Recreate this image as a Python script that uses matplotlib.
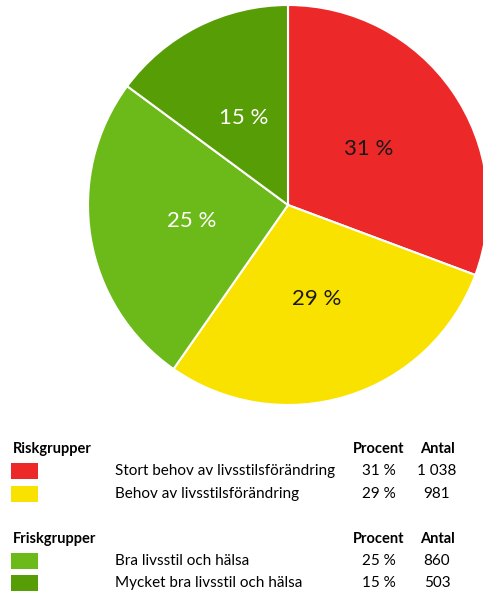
import matplotlib.pyplot as plt
import matplotlib.patches as mpatches

plt.rcParams['font.family'] = ['Lato', 'DejaVu Sans']

labels = ['Stort behov av livsstilsförändring', 'Behov av livsstilsförändring',
          'Bra livsstil och hälsa', 'Mycket bra livsstil och hälsa']
antal = [1038, 981, 860, 503]
procent = ['31 %', '29 %', '25 %', '15 %']
antal_txt = ['1 038', '981', '860', '503']
colors = ['#ED2828', '#F9E200', '#6CBA19', '#579E06']
label_colors = ['#1a1a1a', '#1a1a1a', 'white', 'white']

W, H = 483, 591
fig = plt.figure(figsize=(W / 100, H / 100), dpi=100)

# pie axes: centre (288, 205), radius 200 px
ax = fig.add_axes([88 / W, 1 - 405 / H, 400 / W, 400 / H])
wedges, texts = ax.pie(antal, colors=colors, startangle=90, counterclock=False,
                       labels=procent, labeldistance=0.49,
                       wedgeprops=dict(edgecolor='white', linewidth=1.5))
for t, c in zip(texts, label_colors):
    t.set_color(c)
    t.set_fontsize(16)
    t.set_ha('center')
    t.set_va('center')
ax.set_aspect('equal')
ax.set_xlim(-1.0, 1.0)
ax.set_ylim(-1.0, 1.0)


def fx(x):
    return x / W


def fy(y):
    return 1 - y / H


# legend table
groups = [('Riskgrupper', 449, [0, 1], [471, 494]),
          ('Friskgrupper', 539, [2, 3], [561, 583])]
for title, ty, idx, rows in groups:
    fig.text(fx(13), fy(ty), title, fontsize=10.5, fontweight='bold', va='center')
    fig.text(fx(379), fy(ty), 'Procent', fontsize=10.5, fontweight='bold', va='center', ha='center')
    fig.text(fx(437), fy(ty), 'Antal', fontsize=10.5, fontweight='bold', va='center', ha='center')
    for i, ry in zip(idx, rows):
        fig.patches.append(mpatches.Rectangle((fx(11), fy(ry + 8)), 27 / W, 16 / H,
                                              transform=fig.transFigure,
                                              facecolor=colors[i], edgecolor='none'))
        fig.text(fx(115), fy(ry), labels[i], fontsize=11, va='center')
        fig.text(fx(379), fy(ry), procent[i], fontsize=11, va='center', ha='center')
        fig.text(fx(437), fy(ry), antal_txt[i], fontsize=11, va='center', ha='center')

fig.savefig('out.png', dpi=100)
